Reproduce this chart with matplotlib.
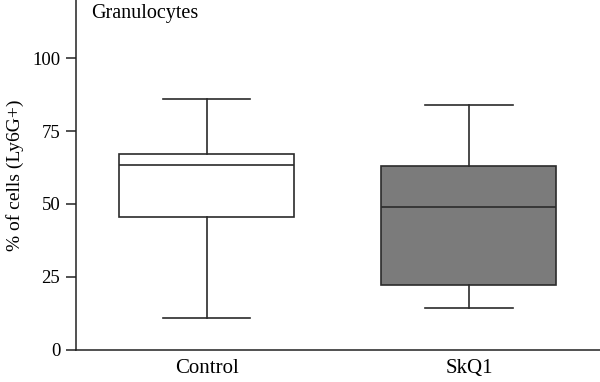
import matplotlib
matplotlib.use("Agg")
import matplotlib.pyplot as plt

# box stats
groups = ["Control", "SkQ1"]
whisker_low = [10.9, 14.3]
q1 = [45.5, 22.1]
median = [63.3, 49.1]
q3 = [67.3, 63.1]
whisker_high = [85.9, 83.8]
fill_colors = ["white", "#7b7b7b"]

plt.rcParams["font.family"] = ["Liberation Serif", "DejaVu Serif"]

stats = []
for i, g in enumerate(groups):
    stats.append({"label": g, "whislo": whisker_low[i], "q1": q1[i], "med": median[i],
                  "q3": q3[i], "whishi": whisker_high[i], "fliers": []})

fig = plt.figure(figsize=(6, 3.82), dpi=100)
ax = fig.add_axes([0.126, 0.085, 0.874, 0.915])

line = dict(color="#2b2b2b", linewidth=1.2)
bp = ax.bxp(stats, positions=range(len(groups)), widths=0.667, patch_artist=True,
            boxprops=line, medianprops=line, whiskerprops=line, capprops=line,
            capwidths=0.333)
for patch, c in zip(bp["boxes"], fill_colors):
    patch.set_facecolor(c)

ax.set_xlim(-0.5, 1.5)
ax.set_ylim(0, 120)
ax.set_yticks([0, 25, 50, 75, 100])
ax.spines["top"].set_visible(False)
ax.spines["right"].set_visible(False)
for s in ["left", "bottom"]:
    ax.spines[s].set_linewidth(1.1)
    ax.spines[s].set_color("#222222")
ax.tick_params(axis="y", length=7, width=1.1, color="#222222", labelsize=13.5, pad=4)
ax.tick_params(axis="x", length=0, labelsize=15, pad=7)
ax.set_ylabel("% of cells (Ly6G+)", fontsize=14, labelpad=6)
ax.text(0.03, 0.988, "Granulocytes", transform=ax.transAxes, fontsize=14.5,
        va="top", ha="left")

fig.savefig("out.png", dpi=100)
